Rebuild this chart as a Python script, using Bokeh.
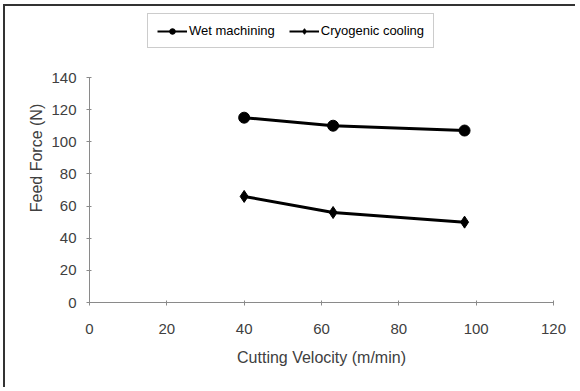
from bokeh.plotting import figure
from bokeh.models import Legend, LegendItem, Range1d, FixedTicker
from bokeh.embed import file_html
from bokeh.resources import INLINE

velocity = [40, 63, 97]
wet_machining = [115, 110, 107]
cryogenic_cooling = [66, 56, 50]
x_ticks = [0, 20, 40, 60, 80, 100, 120]
y_ticks = [0, 20, 40, 60, 80, 100, 120, 140]
y_max = 140

FONT = "Liberation Sans"
AX = "#8a8a8a"
TXT = "#404040"

# plot frame reaches up to the legend; the y axis itself is bounded to 0..140
frame_px = 289      # frame height in px
axis_px = 225       # height of the 0..140 span in px
y_top = y_max * frame_px / axis_px

p = figure(width=572, height=383, output_backend="svg", toolbar_location=None,
           x_range=Range1d(0, 120), y_range=Range1d(0, y_top),
           min_border_left=84, min_border_right=24, min_border_top=7, min_border_bottom=87)
p.outline_line_color = None
p.grid.visible = False
p.background_fill_color = "white"
p.border_fill_color = "white"
p.styles = {"margin-left": "5px", "margin-top": "6px",
            "box-shadow": "-2px -2px 0px 0px #333333"}

p.line(velocity, wet_machining, line_color="black", line_width=3)
p.scatter(velocity, wet_machining, marker="circle", size=11, fill_color="black", line_color="black")
p.line(velocity, cryogenic_cooling, line_color="black", line_width=3)
p.scatter(velocity, cryogenic_cooling, marker="diamond", size=12, fill_color="black", line_color="black")

# legend swatches (smaller, as in the reference legend); hidden in the plot itself
lw = p.line(velocity, wet_machining, line_color="black", line_width=2, visible=False)
mw = p.scatter(velocity, wet_machining, marker="circle", size=7, fill_color="black", line_color="black", visible=False)
lc = p.line(velocity, cryogenic_cooling, line_color="black", line_width=2, visible=False)
mc = p.scatter(velocity, cryogenic_cooling, marker="diamond", size=8, fill_color="black", line_color="black", visible=False)

for ax in (p.xaxis[0], p.yaxis[0]):
    ax.axis_line_color = AX
    ax.major_tick_line_color = AX
    ax.minor_tick_line_color = None
    ax.major_tick_in = 2
    ax.major_tick_out = 3
    ax.major_label_text_font = FONT
    ax.major_label_text_font_size = "15px"
    ax.major_label_text_color = TXT
    ax.axis_label_text_font = FONT
    ax.axis_label_text_font_size = "16px"
    ax.axis_label_text_font_style = "normal"
    ax.axis_label_text_color = TXT

p.yaxis.bounds = (0, y_max)
p.xaxis.ticker = FixedTicker(ticks=x_ticks)
p.yaxis.ticker = FixedTicker(ticks=y_ticks)
p.xaxis.axis_label = "Cutting Velocity (m/min)"
p.yaxis.axis_label = "Feed Force (N)"
p.xaxis.major_label_standoff = 18
p.yaxis.major_label_standoff = 10
p.xaxis.axis_label_standoff = 12
p.yaxis.axis_label_standoff = 3

legend = Legend(items=[LegendItem(label="Wet machining", renderers=[lw, mw]),
                       LegendItem(label="Cryogenic cooling", renderers=[lc, mc])],
                location=(58, 254), orientation="horizontal",
                label_text_font=FONT, label_text_font_size="13px", label_text_color="black",
                glyph_width=30, glyph_height=14, label_standoff=2, spacing=14,
                padding=9, margin=0, border_line_color="#9a9a9a", border_line_width=1,
                background_fill_alpha=1, inactive_fill_alpha=0)
p.add_layout(legend, "center")

open("out.html", "w").write(file_html(p, INLINE))
